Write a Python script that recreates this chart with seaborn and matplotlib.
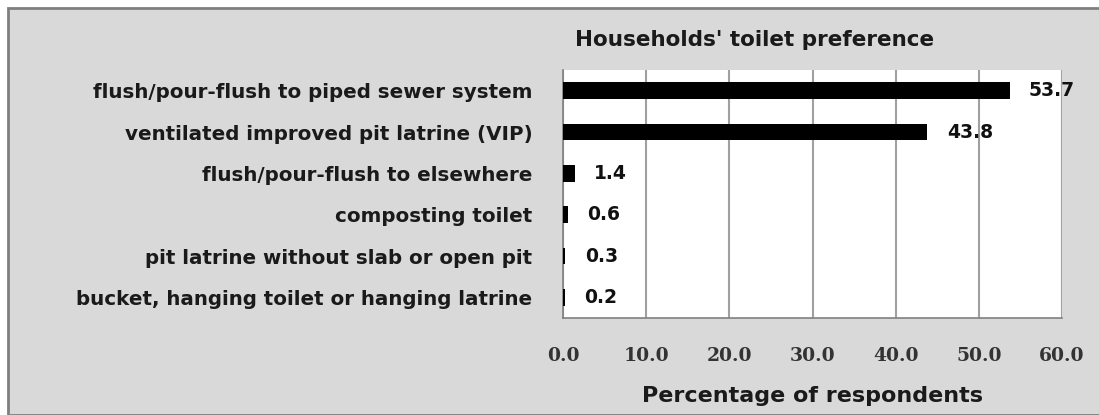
import matplotlib
matplotlib.use("Agg")
import matplotlib.pyplot as plt
import seaborn as sns
import pandas as pd
from matplotlib.patches import Rectangle

categories = [
    "flush/pour-flush to piped sewer system",
    "ventilated improved pit latrine (VIP)",
    "flush/pour-flush to elsewhere",
    "composting toilet",
    "pit latrine without slab or open pit",
    "bucket, hanging toilet or hanging latrine",
]
values = [53.7, 43.8, 1.4, 0.6, 0.3, 0.2]
xticks = [0, 10, 20, 30, 40, 50, 60]

df = pd.DataFrame({"toilet": categories, "pct": values})

sns.set_style("white")
plt.rcParams["font.family"] = ["DejaVu Sans"]

fig = plt.figure(figsize=(10.99, 4.15), dpi=100)
fig.patch.set_facecolor("white")
# grey chart panel with border
panel = Rectangle((8 / 1099, 0), 1.0, 1 - 8 / 415, transform=fig.transFigure,
                  facecolor="#d9d9d9", edgecolor="#7f7f7f", linewidth=2, zorder=-10)
fig.add_artist(panel)

ax = fig.add_axes([563 / 1099, 1 - 318 / 415, 499 / 1099, 248 / 415])
ax.set_facecolor("white")
sns.barplot(data=df, x="pct", y="toilet", color="black", width=0.4, linewidth=0,
            ax=ax, zorder=3)

ax.set_xlim(0, 60)
ax.set_xticks(xticks)
ax.set_xticklabels([f"{t:.1f}" for t in xticks], family="DejaVu Serif", fontsize=13.5,
                   fontweight="bold", color="#333333")
ax.tick_params(axis="x", length=5, color="#808080", pad=16)
ax.tick_params(axis="y", length=0, pad=22)
for lbl in ax.get_yticklabels():
    lbl.set_fontsize(14.3)
    lbl.set_fontweight("bold")
    lbl.set_color("#1a1a1a")

# y tick marks between categories
ax.set_yticks([i + 0.5 for i in range(-1, len(categories))], minor=True)
ax.tick_params(axis="y", which="minor", length=6, color="#808080", direction="out")

ax.xaxis.grid(True, color="#a0a0a0", linewidth=1.5, zorder=0)
ax.set_axisbelow(True)
for side in ["top", "right"]:
    ax.spines[side].set_visible(False)
for side in ["left", "bottom"]:
    ax.spines[side].set_color("#808080")
    ax.spines[side].set_linewidth(1.2)

ax.bar_label(ax.containers[0], fmt="%.1f", padding=14, fontsize=13.5, fontweight="bold",
             color="#111111")

ax.set_ylabel("")
ax.set_xlabel("Percentage of respondents", fontsize=16, fontweight="bold", color="#1a1a1a",
              labelpad=15)
fig.text(755 / 1099, 1 - 40 / 415, "Households' toilet preference", ha="center", va="center",
         fontsize=15.5, fontweight="bold", color="#1a1a1a")

fig.savefig("out.png", dpi=100)
